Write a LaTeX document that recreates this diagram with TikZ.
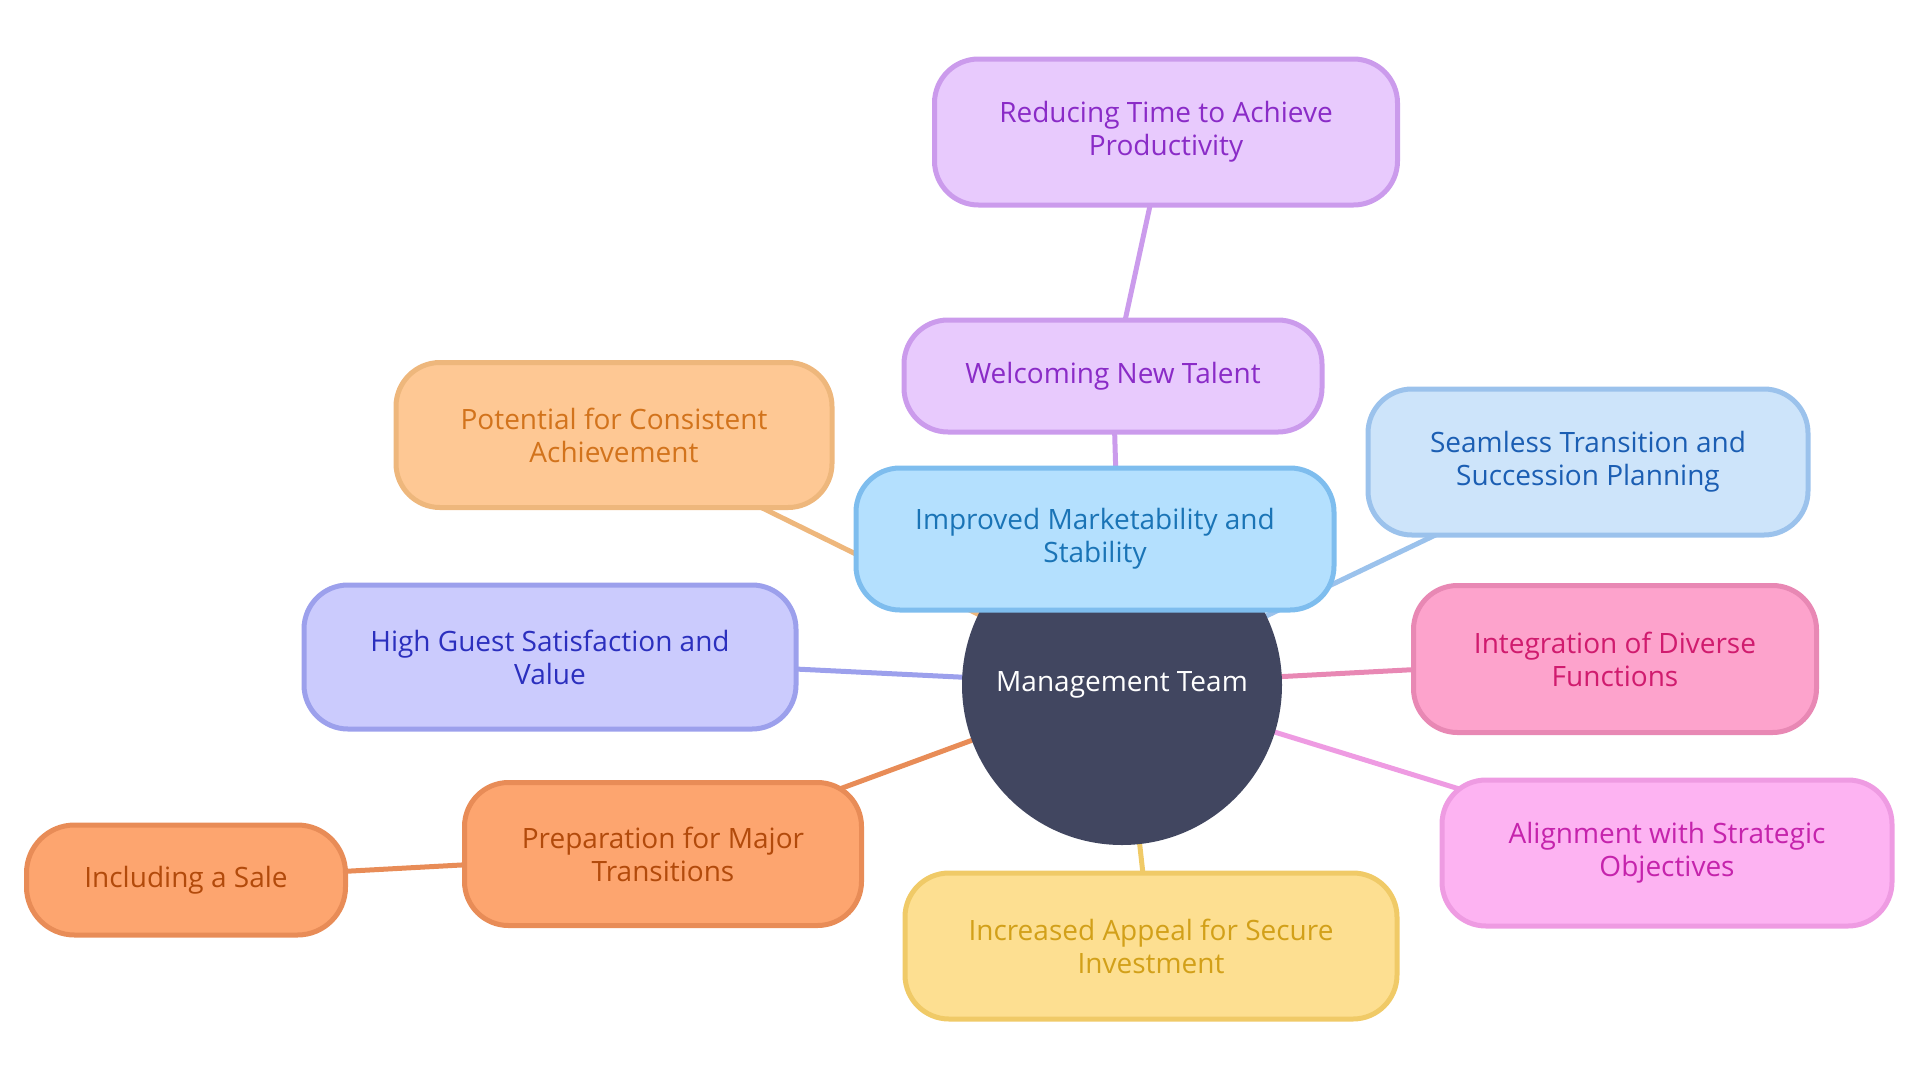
\documentclass[tikz,border=0pt]{standalone}
\usepackage{fontspec}
\setmainfont{Open Sans}
\usetikzlibrary{backgrounds}

\definecolor{mgmtfill}{HTML}{414660}
\definecolor{violetfill}{HTML}{E8CAFD}
\definecolor{violetline}{HTML}{CB9BEC}
\definecolor{violettext}{HTML}{8A2BC7}
\definecolor{apricotfill}{HTML}{FEC894}
\definecolor{apricotline}{HTML}{EEB77C}
\definecolor{apricottext}{HTML}{D2731C}
\definecolor{skyfill}{HTML}{B4E0FE}
\definecolor{skyline}{HTML}{7EBDEE}
\definecolor{skytext}{HTML}{1A74B6}
\definecolor{icefill}{HTML}{CDE4FA}
\definecolor{iceline}{HTML}{9BC2EC}
\definecolor{icetext}{HTML}{1B5EB3}
\definecolor{lavenderfill}{HTML}{CBCBFD}
\definecolor{lavenderline}{HTML}{9CA0EC}
\definecolor{lavendertext}{HTML}{2B2FBE}
\definecolor{rosefill}{HTML}{FDA3CC}
\definecolor{roseline}{HTML}{E888B4}
\definecolor{rosetext}{HTML}{D01B6E}
\definecolor{orchidfill}{HTML}{FDB3F2}
\definecolor{orchidline}{HTML}{EE9BE2}
\definecolor{orchidtext}{HTML}{C523AC}
\definecolor{sandfill}{HTML}{FDDF91}
\definecolor{sandline}{HTML}{F0CA67}
\definecolor{sandtext}{HTML}{D2A019}
\definecolor{coralfill}{HTML}{FDA56F}
\definecolor{coralline}{HTML}{E88C57}
\definecolor{coraltext}{HTML}{B24A0B}

\tikzset{
  mapbox/.style={rounded corners=44pt, line width=5pt, align=center, inner sep=0pt,
    font=\fontsize{28}{33}\selectfont},
  violetbox/.style={mapbox, fill=violetfill, draw=violetline, text=violettext},
  apricotbox/.style={mapbox, fill=apricotfill, draw=apricotline, text=apricottext},
  skybox/.style={mapbox, fill=skyfill, draw=skyline, text=skytext},
  icebox/.style={mapbox, fill=icefill, draw=iceline, text=icetext},
  lavenderbox/.style={mapbox, fill=lavenderfill, draw=lavenderline, text=lavendertext},
  rosebox/.style={mapbox, fill=rosefill, draw=roseline, text=rosetext},
  orchidbox/.style={mapbox, fill=orchidfill, draw=orchidline, text=orchidtext},
  sandbox/.style={mapbox, fill=sandfill, draw=sandline, text=sandtext},
  coralbox/.style={mapbox, fill=coralfill, draw=coralline, text=coraltext},
  link/.style={line width=5pt},
}

\begin{document}
\begin{tikzpicture}[x=1pt,y=-1pt]
  \useasboundingbox (0,0) rectangle (1920,1080);

  % root
  \node[circle, fill=mgmtfill, text=white, minimum size=320pt, inner sep=0pt,
    font=\fontsize{28}{33}\selectfont] (mgmt) at (1122,685) {Management Team};

  % branches
  \node[violetbox, minimum width=463pt, minimum height=146pt] (reducing) at (1166,132) {Reducing Time to Achieve\\Productivity};
  \node[violetbox, minimum width=418pt, minimum height=112pt] (welcoming) at (1113,376) {Welcoming New Talent};
  \node[apricotbox, minimum width=436pt, minimum height=145pt] (potential) at (614,435) {Potential for Consistent\\Achievement};
  \node[skybox, minimum width=478pt, minimum height=142pt] (improved) at (1095,539) {Improved Marketability and\\Stability};
  \node[icebox, minimum width=440pt, minimum height=146pt] (seamless) at (1588,462) {Seamless Transition and\\Succession Planning};
  \node[lavenderbox, minimum width=492pt, minimum height=144pt] (guest) at (550,657) {High Guest Satisfaction and\\Value};
  \node[rosebox, minimum width=403pt, minimum height=147pt] (integration) at (1615,659) {Integration of Diverse\\Functions};
  \node[orchidbox, minimum width=450pt, minimum height=146pt] (alignment) at (1667,853) {Alignment with Strategic\\Objectives};
  \node[sandbox, minimum width=492pt, minimum height=146pt] (appeal) at (1151,946) {Increased Appeal for Secure\\Investment};
  \node[coralbox, minimum width=397pt, minimum height=143pt] (preparation) at (663,854) {Preparation for Major\\Transitions};
  \node[coralbox, minimum width=319pt, minimum height=110pt, rounded corners=48pt] (sale) at (186,880) {Including a Sale};

  % connectors
  \begin{pgfonlayer}{background}
    \draw[link, violetline] (mgmt.center) -- (welcoming.center);
    \draw[link, violetline] (welcoming.center) -- (reducing.center);
    \draw[link, apricotline] (mgmt.center) -- (potential.center);
    \draw[link, skyline] (mgmt.center) -- (improved.center);
    \draw[link, iceline] (mgmt.center) -- (seamless.center);
    \draw[link, lavenderline] (mgmt.center) -- (guest.center);
    \draw[link, roseline] (mgmt.center) -- (integration.center);
    \draw[link, orchidline] (mgmt.center) -- (alignment.center);
    \draw[link, sandline] (mgmt.center) -- (appeal.center);
    \draw[link, coralline] (mgmt.center) -- (preparation.center);
    \draw[link, coralline] (preparation.center) -- (sale.center);
  \end{pgfonlayer}
\end{tikzpicture}
\end{document}
